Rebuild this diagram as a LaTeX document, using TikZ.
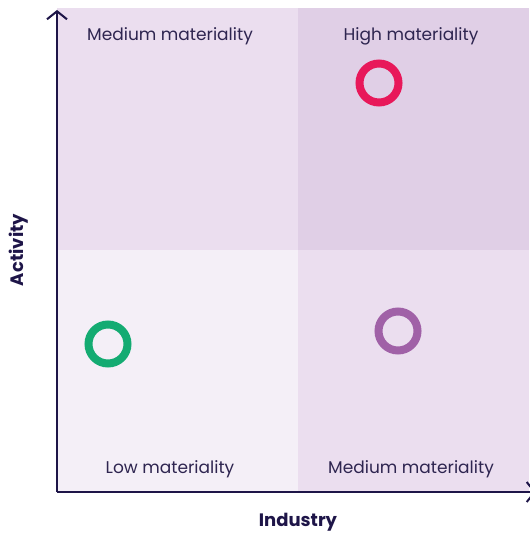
\documentclass[tikz,border=0pt]{standalone}
\usepackage{fontspec}
\setmainfont{Poppins}
\usetikzlibrary{arrows.meta}

\definecolor{quadmid}{HTML}{EBDEEF}
\definecolor{quadhigh}{HTML}{E0CFE6}
\definecolor{quadlow}{HTML}{F4EFF7}
\definecolor{axisink}{HTML}{1E1548}
\definecolor{labelink}{HTML}{2E2550}
\definecolor{dotred}{HTML}{E8185A}
\definecolor{dotgreen}{HTML}{14AB72}
\definecolor{dotpurple}{HTML}{A061A7}

\tikzset{
    quadlabel/.style={text=labelink, font=\fontsize{17}{20}\selectfont},
    axislabel/.style={text=axisink, font=\fontsize{18}{21}\selectfont\bfseries},
    ring/.style={circle, draw=#1, line width=8pt, minimum size=39pt, inner sep=0pt},
    axis/.style={draw=axisink, line width=2pt, -{Straight Barb[length=8pt,width=20pt,line width=2pt]}}
}

\begin{document}
\begin{tikzpicture}[x=1pt,y=-1pt]
\useasboundingbox (0,0) rectangle (529,534);

\begin{scope}
    \fill[quadmid]  ( 57,  8) rectangle (298,250); % top left
    \fill[quadhigh] (298,  8) rectangle (529,250); % top right
    \fill[quadlow]  ( 57,250) rectangle (298,492); % bottom left
    \fill[quadmid]  (298,250) rectangle (529,492); % bottom right
\end{scope}

    \coordinate (origin) at (57,492);
    \coordinate (ytop) at (57,10);
    \coordinate (xend) at (536,492);
    \draw[axis] (origin) -- (ytop);
    \draw[axis] (origin) -- (xend);

    \node[quadlabel] (medtl) at (170,36) {Medium materiality};
    \node[quadlabel] (high)  at (411,36) {High materiality};
    \node[quadlabel] (low)   at (170,469) {Low materiality};
    \node[quadlabel] (medbr) at (411,469) {Medium materiality};

    \node[ring=dotred]    (red)    at (379,83)  {};
    \node[ring=dotgreen]  (green)  at (108,344) {};
    \node[ring=dotpurple] (purple) at (398,331) {};

    \node[axislabel] (industry) at (298,522) {Industry};
    \node[axislabel, rotate=90] (activity) at (19,250) {Activity};

\end{tikzpicture}
\end{document}
